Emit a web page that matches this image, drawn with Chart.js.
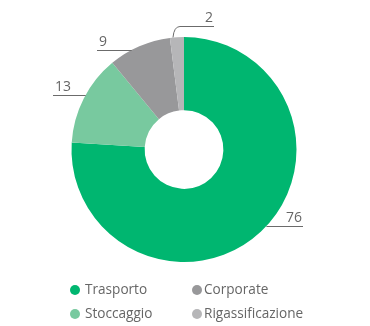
<!DOCTYPE html>
<html><head><meta charset="utf-8">
<script src="https://cdn.jsdelivr.net/npm/chart.js@4"></script>
<style>html,body{margin:0;padding:0;background:#fff}#wrap{width:370px;height:326px}</style>
</head><body><div id="wrap"><canvas id="c" width="370" height="326"></canvas></div>
<script>
const categories = ["Trasporto", "Stoccaggio", "Corporate", "Rigassificazione"];
const values = [76, 13, 9, 2];
const colors = ["#00b670", "#78c99f", "#98989a", "#b6b6b8"];
const valueLabels = ["76", "13", "9", "2"];

const FONT = "'Open Sans', sans-serif";
const TEXT = "#666666";
// label layout: angle shift (deg) from slice middle, line end x, text alignment
const labelStyle = [
  {shift: -3.9, end: 303, align: "right", hook: false},
  {shift: 2.1, end: 53, align: "left", hook: false},
  {shift: -4.3, end: 97, align: "left", hook: false},
  {shift: -1.5, end: 214, align: "right", hook: true}
];
const legendPos = [
  {x: 75, y: 290}, {x: 75, y: 314}, {x: 197, y: 290}, {x: 197, y: 314}
];

const overlay = {
  id: "overlay",
  afterDraw(chart) {
    const ctx = chart.ctx;
    const meta = chart.getDatasetMeta(0);
    ctx.save();
    ctx.strokeStyle = "#6b6b6b";
    ctx.lineWidth = 1;
    ctx.fillStyle = TEXT;
    ctx.font = "14px " + FONT;
    ctx.textBaseline = "alphabetic";
    meta.data.forEach((arc, i) => {
      const p = arc.getProps(["x","y","startAngle","endAngle","outerRadius"], true);
      const s = labelStyle[i];
      const a = (p.startAngle + p.endAngle) / 2 + s.shift * Math.PI / 180;
      const ax = p.x + Math.cos(a) * p.outerRadius;
      const ay = p.y + Math.sin(a) * p.outerRadius;
      let ly = Math.round(ay) + 0.5;
      ctx.beginPath();
      if (s.hook) {
        ly = Math.round(ay - 11) + 0.5;
        ctx.moveTo(ax - 1, ay);
        ctx.quadraticCurveTo(ax, ly, ax + 6, ly);
        ctx.lineTo(s.end, ly);
      } else {
        ctx.moveTo(ax, ly);
        ctx.lineTo(s.end, ly);
      }
      ctx.stroke();
      ctx.textAlign = s.align;
      const tx = s.align === "right" ? s.end - 1 : s.end + 2;
      ctx.fillText(valueLabels[i], tx, ly - 5);
    });
    // legend
    ctx.font = "13.6px " + FONT;
    ctx.textAlign = "left";
    ctx.textBaseline = "middle";
    categories.forEach((c, i) => {
      const lp = legendPos[i];
      ctx.fillStyle = colors[i];
      ctx.beginPath();
      ctx.arc(lp.x, lp.y, 5, 0, Math.PI * 2);
      ctx.fill();
      ctx.fillStyle = TEXT;
      ctx.fillText(c, lp.x + (i < 2 ? 10 : 7), lp.y);
    });
    ctx.restore();
  }
};

new Chart(document.getElementById("c"), {
  type: "doughnut",
  data: {
    labels: categories,
    datasets: [{
      data: values,
      backgroundColor: colors,
      borderWidth: 0
    }]
  },
  options: {
    responsive: false,
    animation: false,
    cutout: "35%",
    layout: {padding: {top: 37, bottom: 64, left: 0, right: 2}},
    plugins: {legend: {display: false}, tooltip: {enabled: false}}
  },
  plugins: [overlay]
});
</script>
</body></html>
